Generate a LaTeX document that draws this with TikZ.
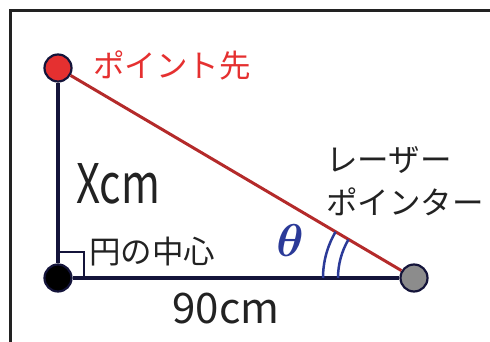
\RequirePackage{fix-cm}
\documentclass[tikz,border=0pt]{standalone}
\usepackage{fontspec}
\usepackage{graphicx}
\setmainfont{Noto Sans CJK JP}
\definecolor{navy}{HTML}{14143A}
\definecolor{tipred}{HTML}{E53030}
\definecolor{beamred}{HTML}{B42A2A}
\definecolor{anglblue}{HTML}{2B3A98}
\definecolor{inkgray}{HTML}{222222}
\begin{document}
\begin{tikzpicture}[x=1pt,y=1pt]
\tikzstyle{frame}=[line width=3pt, draw=inkgray]
\tikzstyle{point}=[circle, draw=navy, line width=2.2pt, minimum size=27pt, inner sep=0pt]
\tikzstyle{leg}=[line width=3.5pt, draw=navy]
\tikzstyle{labeltext}=[font=\fontsize{31.5}{36}\selectfont, text=inkgray, inner sep=0pt]
\tikzstyle{lentext}=[font=\fontsize{42}{50}\selectfont, text=inkgray, inner sep=0pt]
\useasboundingbox (0,0) rectangle (490,342);

% Frame
\draw[frame] (492,331) -- (10,331) -- (10,-2);

% Points
\node[point, fill=tipred] (tip) at (58,274) {};
\node[point, fill=black] (center) at (58,64) {};
\node[point, fill=gray!90] (laser) at (414,64) {};

% Sides
\draw[leg] (tip) -- (center);
\draw[leg] (center) -- (laser);
\draw[line width=3pt, draw=beamred] (tip) -- (laser);
\draw[line width=2.5pt, draw=navy] ([yshift=26pt]center.center) -| ([xshift=26pt]center.center);

% Angle
\draw[line width=2.5pt, draw=anglblue] (laser.center) ++(180:76) arc[start angle=180, end angle=149.5, radius=76];
\draw[line width=2.5pt, draw=anglblue] (laser.center) ++(180:91) arc[start angle=180, end angle=149.5, radius=91];
\node[font=\fontsize{46}{50}\selectfont\boldmath, text=anglblue, inner sep=0pt] (theta) at (290,101) {$\theta$};

% Labels
\node[labeltext, text=tipred, anchor=west] (tiplabel) at (93,277) {ポイント先};
\node[labeltext, anchor=west] (centerlabel) at (89,90) {円の中心};
\node[labeltext, anchor=west] (laserlabel1) at (326,182) {レーザー};
\node[labeltext, anchor=west] (laserlabel2) at (326,140) {ポインター};
\node[lentext, anchor=west] (xlabel) at (76,158) {\scalebox{1}[1.3]{Xcm}};
\node[lentext] (baselabel) at (226,33) {90cm};
\end{tikzpicture}
\end{document}
